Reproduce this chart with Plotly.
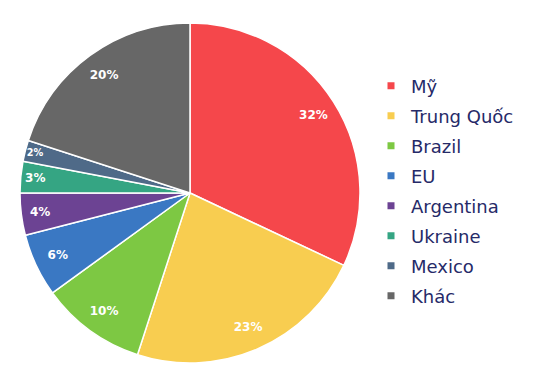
import plotly.graph_objects as go

labels = ["Mỹ", "Trung Quốc", "Brazil", "EU", "Argentina", "Ukraine", "Mexico", "Khác"]
values = [32, 23, 10, 6, 4, 3, 2, 20]
colors = ["#F5474B", "#F8CD50", "#7DC843", "#3A78C3", "#6C4393", "#35A583", "#4F6A88", "#676767"]

W, H = 534, 366
dom = dict(x=[12 / W, 352 / W], y=[11 / H, 351 / H])
fig = go.Figure()
fig.add_trace(go.Pie(
    labels=labels, values=values, sort=False, direction="clockwise", rotation=0,
    marker=dict(colors=colors, line=dict(color="white", width=1.5)),
    textinfo="none", showlegend=False, hoverinfo="label+percent", domain=dom,
))
# transparent ring used only to place the percentage labels near the rim
fig.add_trace(go.Pie(
    labels=labels, values=values, sort=False, direction="clockwise", rotation=0,
    hole=0.72,
    marker=dict(colors=["rgba(0,0,0,0)"] * len(values), line=dict(width=0)),
    texttemplate="%{value}%", textposition="inside", insidetextorientation="horizontal",
    textfont=dict(family="DejaVu Sans", size=12, color="white", weight="bold"),
    showlegend=False, hoverinfo="skip", domain=dom,
))
for lab, col in zip(labels, colors):
    fig.add_trace(go.Scatter(
        x=[None], y=[None], mode="markers", name=lab, legendgroup=lab,
        marker=dict(symbol="square", size=7, color=col),
    ))
fig.update_layout(
    width=W, height=H, margin=dict(l=0, r=0, t=0, b=0),
    paper_bgcolor="white", plot_bgcolor="white",
    xaxis=dict(visible=False), yaxis=dict(visible=False),
    legend=dict(x=363 / W, y=0.5, xanchor="left", yanchor="middle",
                font=dict(family="DejaVu Sans", size=18, color="#262A68"),
                tracegroupgap=3.6, bgcolor="rgba(0,0,0,0)"),
)
fig.write_html("out.html")
